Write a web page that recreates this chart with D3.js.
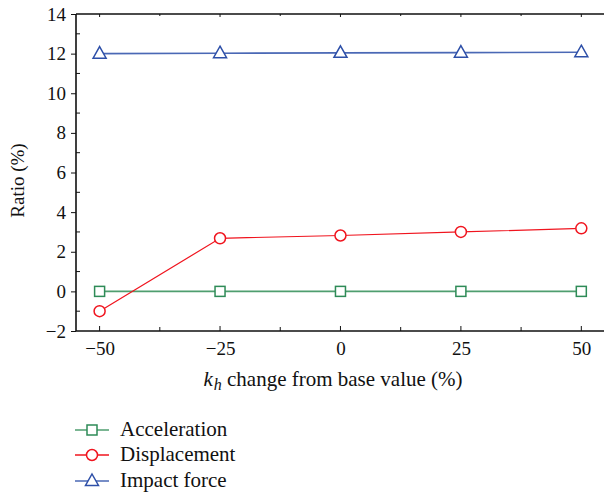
<!DOCTYPE html>
<html>
<head>
<meta charset="utf-8">
<script src="https://cdn.jsdelivr.net/npm/d3@7"></script>
<style>
  body { margin: 0; background: #fff; }
  svg text { fill: #111; }
</style>
</head>
<body>
<div id="chart"></div>
<script>
const khChange = [-50, -25, 0, 25, 50];
const acceleration = [0, 0, 0, 0, 0];
const displacement = [-1.0, 2.68, 2.82, 3.0, 3.18];
const impactForce = [12.0, 12.02, 12.04, 12.05, 12.07];
const xTicks = [-50, -25, 0, 25, 50];
const yTicks = [-2, 0, 2, 4, 6, 8, 10, 12, 14];

const series = [
  {name: "Acceleration", values: acceleration, color: "#2e8b57", line: "#4f9e6f", marker: "square"},
  {name: "Displacement", values: displacement, color: "#f0141e", line: "#f0141e", marker: "circle"},
  {name: "Impact force", values: impactForce, color: "#2d4fa8", line: "#4a68b5", marker: "triangle"}
];

const width = 604, height = 498;
const margin = {top: 14, right: 1, bottom: 167, left: 76};

const svg = d3.select("#chart").append("svg")
  .attr("width", width)
  .attr("height", height)
  .attr("font-family", "Liberation Serif");

const x = d3.scaleLinear()
  .domain([-54.9, 54.5])
  .range([margin.left, width - margin.right]);
const y = d3.scaleLinear()
  .domain([-2, 14])
  .range([height - margin.bottom, margin.top]);

const x0 = margin.left, x1 = width - margin.right;
const y0 = height - margin.bottom, y1 = margin.top;
const fmt = d => d < 0 ? "\u2212" + Math.abs(d) : d;

// frame
svg.append("path")
  .attr("d", `M${x0},${y1}H${x1 + 1}M${x0},${y1}V${y0}H${x1 + 1}`)
  .attr("fill", "none")
  .attr("stroke", "#111")
  .attr("stroke-width", 1.6);

// y axis
const gY = svg.append("g")
  .attr("transform", `translate(${x0},0)`)
  .call(d3.axisLeft(y).tickValues(yTicks).tickSize(5).tickPadding(5).tickFormat(fmt));
gY.select(".domain").remove();
gY.attr("font-family", "Liberation Serif").attr("font-size", 19);
gY.selectAll(".tick line").attr("stroke", "#111");

svg.append("g")
  .selectAll("line")
  .data(d3.range(-1, 14, 2))
  .join("line")
    .attr("x1", x0).attr("x2", x0 + 4)
    .attr("y1", d => y(d)).attr("y2", d => y(d))
    .attr("stroke", "#111");

// x axis
const gX = svg.append("g")
  .attr("transform", `translate(0,${y0})`)
  .call(d3.axisBottom(x).tickValues(xTicks).tickSize(0).tickPadding(11).tickFormat(fmt));
gX.select(".domain").remove();
gX.attr("font-family", "Liberation Serif").attr("font-size", 19);

const xMinor = d3.range(-50, 51, 12.5);
svg.append("g")
  .selectAll("line")
  .data(xMinor)
  .join("line")
    .attr("x1", d => x(d)).attr("x2", d => x(d))
    .attr("y1", y0).attr("y2", d => y0 - (d % 25 === 0 ? 5 : 4))
    .attr("stroke", "#111");
svg.append("g")
  .selectAll("line")
  .data(xMinor)
  .join("line")
    .attr("x1", d => x(d)).attr("x2", d => x(d))
    .attr("y1", y1).attr("y2", d => y1 + (d % 25 === 0 ? 3 : 2))
    .attr("stroke", "#111");

// axis titles
svg.append("text")
  .attr("transform", `translate(24,${(y0 + y1) / 2 + 8}) rotate(-90)`)
  .attr("text-anchor", "middle")
  .attr("font-size", 19)
  .text("Ratio (%)");

const xt = svg.append("text")
  .attr("x", 333)
  .attr("y", 386)
  .attr("text-anchor", "middle")
  .attr("font-size", 21);
xt.append("tspan").attr("font-style", "italic").text("k");
xt.append("tspan").attr("font-style", "italic").attr("font-size", 16).attr("dy", 4).attr("dx", 1).text("h");
xt.append("tspan").attr("dy", -4).text(" change from base value (%)");

// markers
function drawMarker(g, type, cx, cy, color) {
  if (type === "square") {
    g.append("rect")
      .attr("x", cx - 5).attr("y", cy - 5)
      .attr("width", 10).attr("height", 10)
      .attr("fill", "#fff").attr("stroke", color).attr("stroke-width", 1.5);
  } else if (type === "circle") {
    g.append("circle")
      .attr("cx", cx).attr("cy", cy).attr("r", 5.5)
      .attr("fill", "#fff").attr("stroke", color).attr("stroke-width", 1.5);
  } else {
    g.append("path")
      .attr("d", `M${cx},${cy - 7}L${cx + 6.5},${cy + 4.5}L${cx - 6.5},${cy + 4.5}Z`)
      .attr("fill", "#fff").attr("stroke", color).attr("stroke-width", 1.5);
  }
}

const line = d3.line()
  .x((d, i) => x(khChange[i]))
  .y(d => y(d));

series.forEach(s => {
  const g = svg.append("g");
  g.append("path")
    .attr("d", line(s.values))
    .attr("fill", "none")
    .attr("stroke", s.line)
    .attr("stroke-width", s.marker === "circle" ? 1.2 : 1.6);
  s.values.forEach((v, i) => drawMarker(g, s.marker, x(khChange[i]), y(v), s.color));
});

// legend
const legendY = [430, 455, 481];
series.forEach((s, i) => {
  const g = svg.append("g");
  g.append("line")
    .attr("x1", 75).attr("x2", 109)
    .attr("y1", legendY[i]).attr("y2", legendY[i])
    .attr("stroke", s.line).attr("stroke-width", 1.5);
  drawMarker(g, s.marker, 92, legendY[i], s.color);
  g.append("text")
    .attr("x", 120)
    .attr("y", legendY[i] + 6)
    .attr("font-size", 21)
    .text(s.name);
});
</script>
</body>
</html>
